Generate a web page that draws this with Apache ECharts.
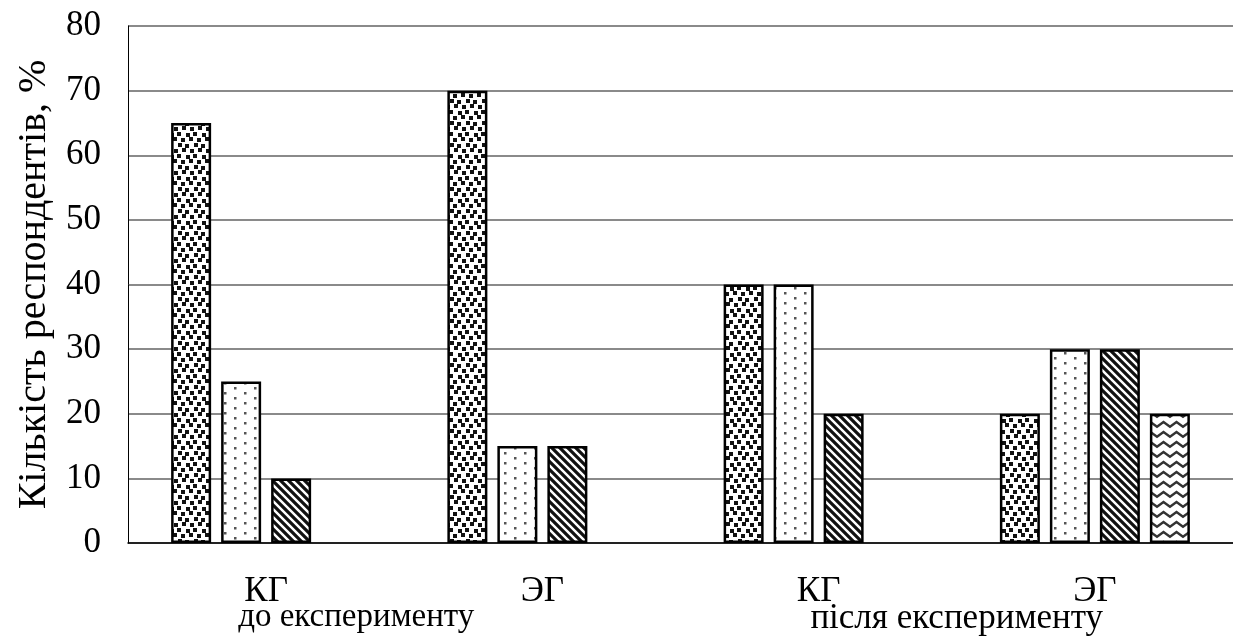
<!DOCTYPE html>
<html>
<head>
<meta charset="utf-8">
<script src="https://cdn.jsdelivr.net/npm/echarts@6/dist/echarts.min.js"></script>
<style>html,body{margin:0;padding:0;background:#fff}#c{width:1233px;height:637px}</style>
</head>
<body>
<div id="c"></div>
<script>
const categories = ['КГ', 'ЭГ', 'КГ', 'ЭГ'];
const groupLabels = ['до експерименту', 'після експерименту'];
const seriesA = [65, 70, 40, 20];
const seriesB = [25, 15, 40, 30];
const seriesC = [10, 15, 20, 30];
const seriesD = [null, null, null, 20];
const yMin = 0, yMax = 80, yStep = 10;

function tile(w, h, draw) {
  const c = document.createElement('canvas');
  c.width = w; c.height = h;
  const g = c.getContext('2d');
  g.fillStyle = '#fff'; g.fillRect(0, 0, w, h);
  draw(g, w, h);
  return { image: c, repeat: 'repeat' };
}
function wrapRect(g, w, h, x, y, s) {
  for (const dx of [0, -w]) for (const dy of [0, -h]) g.fillRect(x + dx, y + dy, s, s);
}
const patDense = tile(16, 22, (g, w, h) => {
  g.fillStyle = '#111';
  const pts = [[1,0],[10,1],[5,6],[13,5],[2,11],[9,12],[6,16],[14,17]];
  pts.forEach(p => wrapRect(g, w, h, p[0], p[1], 4));
});
const patSparse = tile(20, 10, g => {
  g.fillStyle = '#555';
  g.fillRect(4, 2, 2.5, 2.5); g.fillRect(14, 7, 2.5, 2.5);
});
const patDiag = tile(8, 8, g => {
  g.strokeStyle = '#111'; g.lineWidth = 3.2;
  g.beginPath();
  g.moveTo(-2, -2); g.lineTo(10, 10);
  g.moveTo(-10, -2); g.lineTo(2, 10);
  g.moveTo(6, -2); g.lineTo(18, 10);
  g.stroke();
});
const patWave = tile(13, 10, g => {
  g.strokeStyle = '#333'; g.lineWidth = 2.4;
  g.beginPath();
  g.moveTo(-1, 7.5); g.lineTo(6.5, 2); g.lineTo(14, 7.5);
  g.stroke();
});

const font = "'Liberation Serif', 'Times New Roman', serif";
const chart = echarts.init(document.getElementById('c'));
function bar(name, data, pat) {
  return {
    name, type: 'bar', data, barWidth: 40, barGap: '25%',
    itemStyle: { color: pat, borderColor: '#000', borderWidth: 2.5 }
  };
}
chart.setOption({
  animation: false,
  grid: { left: 128, right: 0, top: 26, bottom: 94 },
  xAxis: [{
    type: 'category', data: categories,
    axisLine: { lineStyle: { color: '#000', width: 1.5 } },
    axisTick: { show: false },
    axisLabel: { color: '#000', fontFamily: font, fontSize: 35, margin: 31 }
  }, {
    type: 'category', data: groupLabels, position: 'bottom',
    axisLine: { show: false }, axisTick: { show: false },
    axisLabel: {
      color: '#000', fontFamily: font, fontSize: 34, margin: 58,
      formatter: (v, i) => i === 0 ? '{a|' + v + '}' : '{b|' + v + '}',
      rich: {
        a: { fontFamily: font, fontSize: 33, color: '#000', padding: [0, 96, 0, 0] },
        b: { fontFamily: font, fontSize: 35, color: '#000' }
      }
    }
  }],
  yAxis: {
    type: 'value', min: yMin, max: yMax, interval: yStep,
    name: 'Кількість респондентів, %', nameLocation: 'middle', nameGap: 74,
    nameTextStyle: { color: '#000', fontFamily: font, fontSize: 40 },
    axisLine: { show: true, lineStyle: { color: '#000', width: 1 } },
    axisTick: { show: false },
    axisLabel: { color: '#000', fontFamily: font, fontSize: 35, margin: 27 },
    splitLine: { lineStyle: { color: '#8a8a8a', width: 2 } }
  },
  series: [
    bar('A', seriesA, patDense),
    bar('B', seriesB, patSparse),
    bar('C', seriesC, patDiag),
    bar('D', seriesD, patWave)
  ]
});
</script>
</body>
</html>
